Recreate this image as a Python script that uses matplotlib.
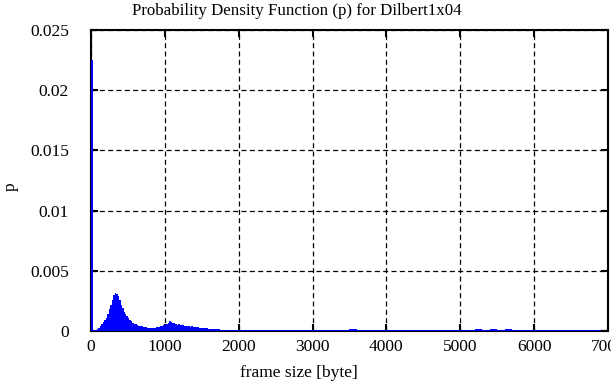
import numpy as np
import matplotlib
matplotlib.use("Agg")
import matplotlib.pyplot as plt

# frame size histogram, 20 byte bins from 0 to 2000
bin_width = 20
pdf_head = [
    0.0225, 0.00005, 0.00007, 0.0001, 0.00018,
    0.00028, 0.00042, 0.00056, 0.00075, 0.0009,
    0.00112, 0.0014, 0.0018, 0.0022, 0.0026,
    0.0030, 0.00317, 0.0031, 0.0029, 0.0026,
    0.0022, 0.0019, 0.0016, 0.0014, 0.00125,
    0.0011, 0.00095, 0.0008, 0.0007, 0.0006,
    0.00055, 0.0005, 0.00045, 0.00042, 0.0004,
    0.00036, 0.00033, 0.0003, 0.00028, 0.00025,
    0.00024, 0.00024, 0.00026, 0.00028, 0.00031,
    0.00034, 0.00038, 0.0004, 0.00045, 0.00048,
    0.0005, 0.00058, 0.00065, 0.0008, 0.00072,
    0.00064, 0.00068, 0.0006, 0.00054, 0.00058,
    0.00052, 0.00048, 0.0005, 0.00044, 0.00042,
    0.00044, 0.0004, 0.00038, 0.00039, 0.00035,
    0.00033, 0.00034, 0.0003, 0.00028, 0.00029,
    0.00026, 0.00024, 0.00025, 0.00022, 0.00021,
    0.0002, 0.00019, 0.00018, 0.00017, 0.00016,
    0.00015, 0.00014, 0.00013, 0.00013, 0.00012,
    0.00012, 0.00012, 0.00012, 0.00012, 0.00012,
    0.00012, 0.00012, 0.00012, 0.00012, 0.00012,
]

# long tail from 2000 to 7000, 100 byte bins
tail_width = 100
pdf_tail = [
    0.00012, 0.00012, 0.00012, 0.00012, 0.00012, 0.00012, 0.00012, 0.00012, 0.00012, 0.00012,
    0.00012, 0.00012, 0.00012, 0.00012, 0.00012, 0.00016, 0.00012, 0.00012, 0.00012, 0.00012,
    0.00012, 0.00012, 0.00012, 0.00012, 0.00012, 0.00012, 0.00012, 0.00012, 0.00012, 0.00012,
    0.00012, 0.00013, 0.00014, 0.00013, 0.00014, 0.00013, 0.00014, 0.00013, 0.00012, 0.00013,
    0.0001, 0.00011, 0.00008, 0.00011, 0.00009, 0.00011, 0.00008, 0.0001, 0.00008, 0.0,
]

x_ticks = [0, 1000, 2000, 3000, 4000, 5000, 6000, 7000]
y_ticks = [0, 0.005, 0.01, 0.015, 0.02, 0.025]
y_labels = ["0", "0.005", "0.01", "0.015", "0.02", "0.025"]

plt.rcParams["font.family"] = ["Liberation Serif", "DejaVu Serif"]
plt.rcParams["lines.scale_dashes"] = False

fig = plt.figure(figsize=(6.11, 3.85), dpi=100)
ax = fig.add_axes([0.149, 0.140, 0.846, 0.782])

head_edges = np.arange(len(pdf_head) + 1) * bin_width
tail_edges = head_edges[-1] + np.arange(1, len(pdf_tail) + 1) * tail_width
edges = np.concatenate([head_edges, tail_edges])
values = np.array(pdf_head + pdf_tail)
ax.stairs(values, edges, fill=True, color="blue", linewidth=0, zorder=3)

ax.set_xlim(0, 7000)
ax.set_ylim(0, 0.025)
ax.set_xticks(x_ticks)
ax.set_xticklabels([str(t) for t in x_ticks])
ax.set_yticks(y_ticks)
ax.set_yticklabels(y_labels)

ax.grid(True, color="black", linestyle=(0, (3.6, 2.4)), linewidth=0.9)
ax.set_axisbelow(True)

for s in ax.spines.values():
    s.set_linewidth(1.5)
    s.set_zorder(2.5)

ax.tick_params(direction="in", length=5, width=1.5, top=True, right=True,
               labelsize=12.5, colors="black")
ax.tick_params(axis="y", pad=16)
ax.tick_params(axis="x", pad=6)

# gnuplot centres the title and axis labels on the canvas
fig.text(297 / 611, 1 - 11 / 385, "Probability Density Function (p) for Dilbert1x04",
         fontsize=12.2, ha="center", va="center")
fig.text(299 / 611, 1 - 373 / 385, "frame size [byte]",
         fontsize=12.5, ha="center", va="center")
fig.text(11 / 611, 1 - 187 / 385, "p", fontsize=12.5, rotation=90,
         ha="center", va="center")

plt.savefig("out.png", dpi=100)
